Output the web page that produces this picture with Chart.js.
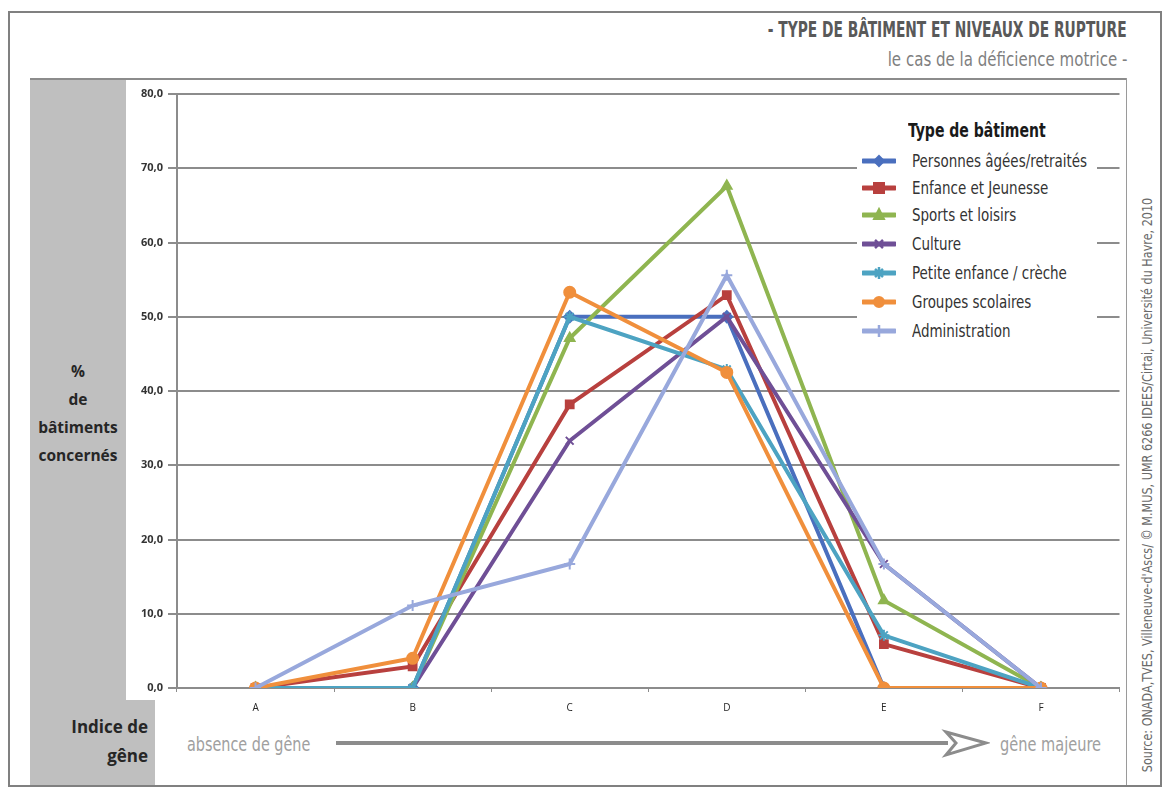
<!DOCTYPE html>
<html lang="fr">
<head>
<meta charset="utf-8">
<title>Type de bâtiment et niveaux de rupture</title>
<script src="https://cdn.jsdelivr.net/npm/chart.js@4.4.1/dist/chart.umd.min.js"></script>
<style>
  body { margin: 0; background: #fff; width: 1169px; height: 787px; overflow: hidden; position: relative;
         font-family: "Liberation Sans Narrow", "DejaVu Sans Condensed", "Open Sans", sans-serif; }
  .abs { position: absolute; }
  /* no condensed face installed: squeeze text horizontally instead */
  .narrow { display: inline-block; transform: scaleX(0.86); transform-origin: left center; white-space: nowrap; }
  #frame { left: 8px; top: 11px; width: 1150px; height: 772px; border: 2px solid #808080; }
  #title { right: 42px; top: 18px; font-size: 21px; font-weight: bold; color: #595959; white-space: nowrap;
           transform: scaleX(0.73); transform-origin: right top; }
  #subtitle { right: 42px; top: 48px; font-size: 19px; color: #7f7f7f; white-space: nowrap;
              transform: scaleX(0.88); transform-origin: right top; }
  #topline { left: 30px; top: 78px; width: 1097px; height: 2px; background: #8c8c8c; }
  #rightline { left: 1126px; top: 78px; width: 1px; height: 707px; background: #9a9a9a; }
  #panelY { left: 30px; top: 80px; width: 96px; height: 620px; background: #bfbfbf; }
  #panelX { left: 30px; top: 700px; width: 125px; height: 85px; background: #bfbfbf; }
  #ylabel { left: 30px; top: 357px; width: 96px; text-align: center; font-family: "Open Sans", sans-serif;
            font-weight: bold; font-size: 15.5px; line-height: 28px; color: #262626; }
  #xlabel { left: 30px; top: 712px; width: 118px; text-align: right; font-family: "Open Sans", sans-serif;
            font-weight: bold; font-size: 17px; line-height: 29px; color: #262626; }
  #absence { left: 187px; top: 732px; font-size: 20px; color: #a0a0a0; transform: scaleX(0.8); transform-origin: left top; }
  #majeure { left: 1000px; top: 732px; font-size: 20px; color: #a0a0a0; transform: scaleX(0.81); transform-origin: left top; }
  #arrow { left: 330px; top: 727px; }
  #source { left: 1147px; top: 485px; transform: translate(-50%, -50%) rotate(-90deg) scaleX(0.86); font-size: 14.5px;
            color: #6a6a6a; white-space: nowrap; }
  #chartBox { left: 126px; top: 80px; width: 1001px; height: 641px; }
  #legend { left: 857px; top: 113px; width: 240px; height: 234px; background: #fff; }
  #legend .lt { position: absolute; left: 51px; top: 5px; font-weight: bold; font-size: 20px; color: #1a1a1a;
                transform: scaleX(0.78); transform-origin: left top; white-space: nowrap; }
  #legend .item { position: absolute; left: 5px; height: 24px; display: flex; align-items: center;
                  font-size: 17px; color: #333; white-space: nowrap; }
  #legend .item svg { margin-right: 16px; }
  #legend .item span { display: inline-block; transform: scaleX(0.88); transform-origin: left center; }
</style>
</head>
<body>
<div id="frame" class="abs"></div>
<div id="title" class="abs">- TYPE DE BÂTIMENT ET NIVEAUX DE RUPTURE</div>
<div id="subtitle" class="abs">le cas de la déficience motrice -</div>
<div id="panelY" class="abs"></div>
<div id="panelX" class="abs"></div>
<div id="topline" class="abs"></div>
<div id="rightline" class="abs"></div>
<div id="ylabel" class="abs">%<br>de<br>bâtiments<br>concernés</div>
<div id="xlabel" class="abs">Indice de<br>gêne</div>
<div id="absence" class="abs">absence de gêne</div>
<svg id="arrow" class="abs" width="660" height="34">
  <line x1="6" y1="16" x2="618" y2="16" stroke="#8c8c8c" stroke-width="4"/>
  <polygon points="616,5 656,16 616,28 626,16" fill="#fff" stroke="#8c8c8c" stroke-width="3" stroke-linejoin="miter"/>
</svg>
<div id="majeure" class="abs">gêne majeure</div>
<div id="source" class="abs">Source: ONADA,TVES, Villeneuve-d'Ascs/ © M.MUS, UMR 6266 IDEES/Cirtai, Université du Havre, 2010</div>
<div id="chartBox" class="abs"><canvas id="ruptureChart"></canvas></div>
<div id="legend" class="abs"><div class="lt">Type de bâtiment</div></div>

<script>
// Indice de gêne (A = absence ... F = gêne majeure)
const categories = ["A", "B", "C", "D", "E", "F"];

const seriesNames = [
  "Personnes âgées/retraités",
  "Enfance et Jeunesse",
  "Sports et loisirs",
  "Culture",
  "Petite enfance / crèche",
  "Groupes scolaires",
  "Administration"
];

// % de bâtiments concernés
const personnesAgees = [0, 0, 50.0, 50.0, 0, 0];
const enfanceJeunesse = [0, 2.9, 38.2, 52.9, 5.9, 0];
const sportsLoisirs = [0, 0, 47.1, 67.6, 11.8, 0];
const culture = [0, 0, 33.3, 50.0, 16.7, 0];
const petiteEnfance = [0, 0, 50.0, 42.9, 7.1, 0];
const groupesScolaires = [0, 4.0, 53.3, 42.5, 0, 0];
const administration = [0, 11.1, 16.7, 55.6, 16.7, 0];

const yTicks = [0, 10, 20, 30, 40, 50, 60, 70, 80];

const seriesValues = [personnesAgees, enfanceJeunesse, sportsLoisirs, culture,
                      petiteEnfance, groupesScolaires, administration];
const seriesColors = ["#4a6fbe", "#b8403e", "#8fb550", "#6f4f96", "#4da3c2", "#f08f3c", "#98a8dc"];
const seriesMarkers = ["rectRot", "rect", "triangle", "crossRot", "star", "circle", "cross"];

document.addEventListener("DOMContentLoaded", () => {
  renderRuptureChart();
  renderLegend();
});

/* -------------------------------
   Line chart
--------------------------------*/
function renderRuptureChart() {
  const ctx = document.getElementById("ruptureChart");
  if (!ctx) return;

  new Chart(ctx, {
    type: "line",
    data: {
      labels: categories,
      datasets: seriesNames.map((name, i) => ({
        label: name,
        data: seriesValues[i],
        order: seriesNames.length - i, // last series painted on top, like Excel
        borderColor: seriesColors[i],
        backgroundColor: seriesColors[i],
        borderWidth: 4,
        pointStyle: seriesMarkers[i],
        pointRadius: 5.5,
        pointBorderWidth: 2,
        tension: 0
      }))
    },
    options: {
      responsive: true,
      maintainAspectRatio: false,
      animation: false,
      layout: { padding: { top: 14, right: 3, left: 0, bottom: 0 } },
      plugins: {
        legend: { display: false },
        tooltip: { enabled: false }
      },
      scales: {
        x: {
          offset: true,
          afterFit: scale => { scale.height = 33; },
          grid: { display: true, drawOnChartArea: false, offset: true, tickLength: 4, color: "#8c8c8c", lineWidth: 1 },
          border: { color: "#8c8c8c", width: 2 },
          ticks: { padding: 10, color: "#262626", font: { family: "Open Sans", size: 10 } }
        },
        y: {
          min: 0,
          max: 80,
          afterFit: scale => { scale.width = 51; },
          afterBuildTicks: scale => { scale.ticks = yTicks.map(v => ({ value: v })); },
          grid: { color: "#8c8c8c", lineWidth: 2, tickLength: 9 },
          border: { color: "#8c8c8c", width: 2 },
          ticks: {
            padding: 5,
            color: "#333",
            font: { family: "Open Sans", size: 11, weight: "bold" },
            callback: value => value.toFixed(1).replace(".", ",")
          }
        }
      }
    }
  });
}

/* -------------------------------
   Legend (drawn over the plot, white box breaks the grid)
--------------------------------*/
function markerSvg(style, color) {
  const c = `stroke="${color}" stroke-width="2" fill="${color}"`;
  switch (style) {
    case "rectRot": return `<polygon points="17,3 22,8 17,13 12,8" ${c}/>`;
    case "rect": return `<rect x="12" y="3" width="10" height="10" ${c}/>`;
    case "triangle": return `<polygon points="17,2 22,12 12,12" ${c}/>`;
    case "crossRot": return `<path d="M13,4 L21,12 M21,4 L13,12" stroke="${color}" stroke-width="2.5"/>`;
    case "star": return `<path d="M13,4 L21,12 M21,4 L13,12 M17,2 L17,14" stroke="${color}" stroke-width="2.5"/>`;
    case "circle": return `<circle cx="17" cy="8" r="5" ${c}/>`;
    default: return `<path d="M17,2 L17,14 M11,8 L23,8" stroke="${color}" stroke-width="2.5"/>`;
  }
}

function renderLegend() {
  const box = document.getElementById("legend");
  const rowTops = [36, 63, 90, 119, 148, 177, 206];
  seriesNames.forEach((name, i) => {
    const row = document.createElement("div");
    row.className = "item";
    row.style.top = rowTops[i] + "px";
    row.innerHTML =
      `<svg width="34" height="16"><line x1="1" y1="8" x2="33" y2="8" stroke="${seriesColors[i]}" stroke-width="5" stroke-linecap="round"/>` +
      markerSvg(seriesMarkers[i], seriesColors[i]) + `</svg>` +
      `<span>${name}</span>`;
    box.appendChild(row);
  });
}
</script>
</body>
</html>
